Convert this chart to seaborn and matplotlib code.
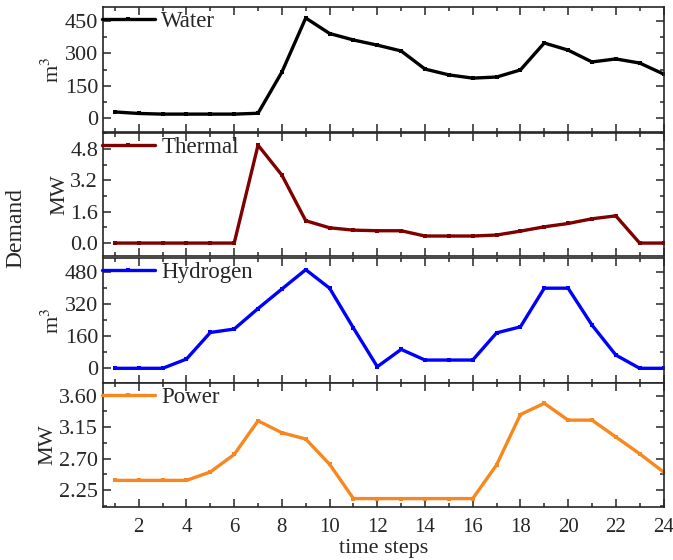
import matplotlib
matplotlib.use("Agg")
import matplotlib.pyplot as plt
import seaborn as sns
import pandas as pd
from matplotlib.ticker import MultipleLocator

steps = list(range(1, 25))
water = [28, 21, 18, 18, 18, 18, 22, 213, 464, 392, 362, 338, 311, 227, 200, 185, 190, 223, 348, 315, 260, 274, 255, 204]
thermal = [0, 0, 0, 0, 0, 0, 5.0, 3.47, 1.14, 0.78, 0.66, 0.63, 0.63, 0.36, 0.36, 0.36, 0.41, 0.61, 0.83, 1.0, 1.24, 1.39, 0, 0]
hydrogen = [0, 0, 0, 46, 178, 195, 297, 394, 490, 398, 200, 8, 94, 41, 41, 41, 176, 206, 398, 398, 215, 66, 0, 0]
power = [2.39, 2.39, 2.39, 2.39, 2.51, 2.76, 3.24, 3.07, 2.98, 2.62, 2.13, 2.13, 2.13, 2.13, 2.13, 2.13, 2.61, 3.33, 3.49, 3.25, 3.25, 3.01, 2.77, 2.51]

names = ["Water", "Thermal", "Hydrogen", "Power"]
units = ["m$^3$", "MW", "m$^3$", "MW"]
colors = ["#000000", "#7f0000", "#0000ff", "#f7871f"]
yticks = [[0, 150, 300, 450], [0.0, 1.6, 3.2, 4.8], [0, 160, 320, 480], [2.25, 2.70, 3.15, 3.60]]
yfmt = ["{:.0f}", "{:.1f}", "{:.0f}", "{:.2f}"]
ylims = [(-65, 515), (-0.66, 5.62), (-73, 548), (2.01, 3.78)]

sns.set_style("ticks")
plt.rcParams['font.family'] = ['Liberation Serif', 'DejaVu Serif']
plt.rcParams['mathtext.fontset'] = 'stix'

fig = plt.figure(figsize=(6.73, 5.6), dpi=100)
left, right = 103 / 673, 664 / 673
tops = [7, 133, 258, 383]
bots = [132, 256, 383, 507]
series = [water, thermal, hydrogen, power]
axes = []
for i in range(4):
    y0 = 1 - bots[i] / 560
    h = (bots[i] - tops[i]) / 560
    ax = fig.add_axes([left, y0, right - left, h])
    df = pd.DataFrame({"step": steps, "value": series[i]})
    sns.lineplot(data=df, x="step", y="value", ax=ax, color=colors[i], linewidth=2.4,
                 marker="s", markersize=3, markeredgewidth=0, label=names[i])
    ax.set_xlim(0.5, 24.02)
    ax.set_ylim(*ylims[i])
    ax.set_yticks(yticks[i])
    ax.set_yticklabels([yfmt[i].format(v) for v in yticks[i]])
    ax.yaxis.set_minor_locator(MultipleLocator((yticks[i][1] - yticks[i][0]) / 2))
    ax.xaxis.set_major_locator(MultipleLocator(2))
    ax.xaxis.set_minor_locator(MultipleLocator(1))
    ax.tick_params(which="both", direction="in", top=True, right=True, labelsize=16, width=1.1)
    ax.tick_params(which="major", length=6)
    ax.tick_params(which="minor", length=3)
    ax.tick_params(axis="x", pad=8, labelsize=15)
    for s in ax.spines.values():
        s.set_linewidth(1.2)
    ax.set_ylabel(units[i], fontsize=16, labelpad=1)
    if i < 3:
        ax.set_xticklabels([])
        ax.set_xlabel("")
    else:
        ax.set_xticks(range(2, 25, 2))
        ax.set_xlabel("time steps", fontsize=16, labelpad=1)
    leg = ax.legend(loc="upper left", frameon=False, fontsize=16.5, handlelength=2.3,
                    handletextpad=0.3, borderaxespad=0.0, borderpad=0.0,
                    bbox_to_anchor=(-0.002, 0.965))
    axes.append(ax)

fig.text(0.024, 0.593, "Demand", rotation=90, fontsize=17, va="center", ha="center")

fig.savefig("out.png", dpi=100)
